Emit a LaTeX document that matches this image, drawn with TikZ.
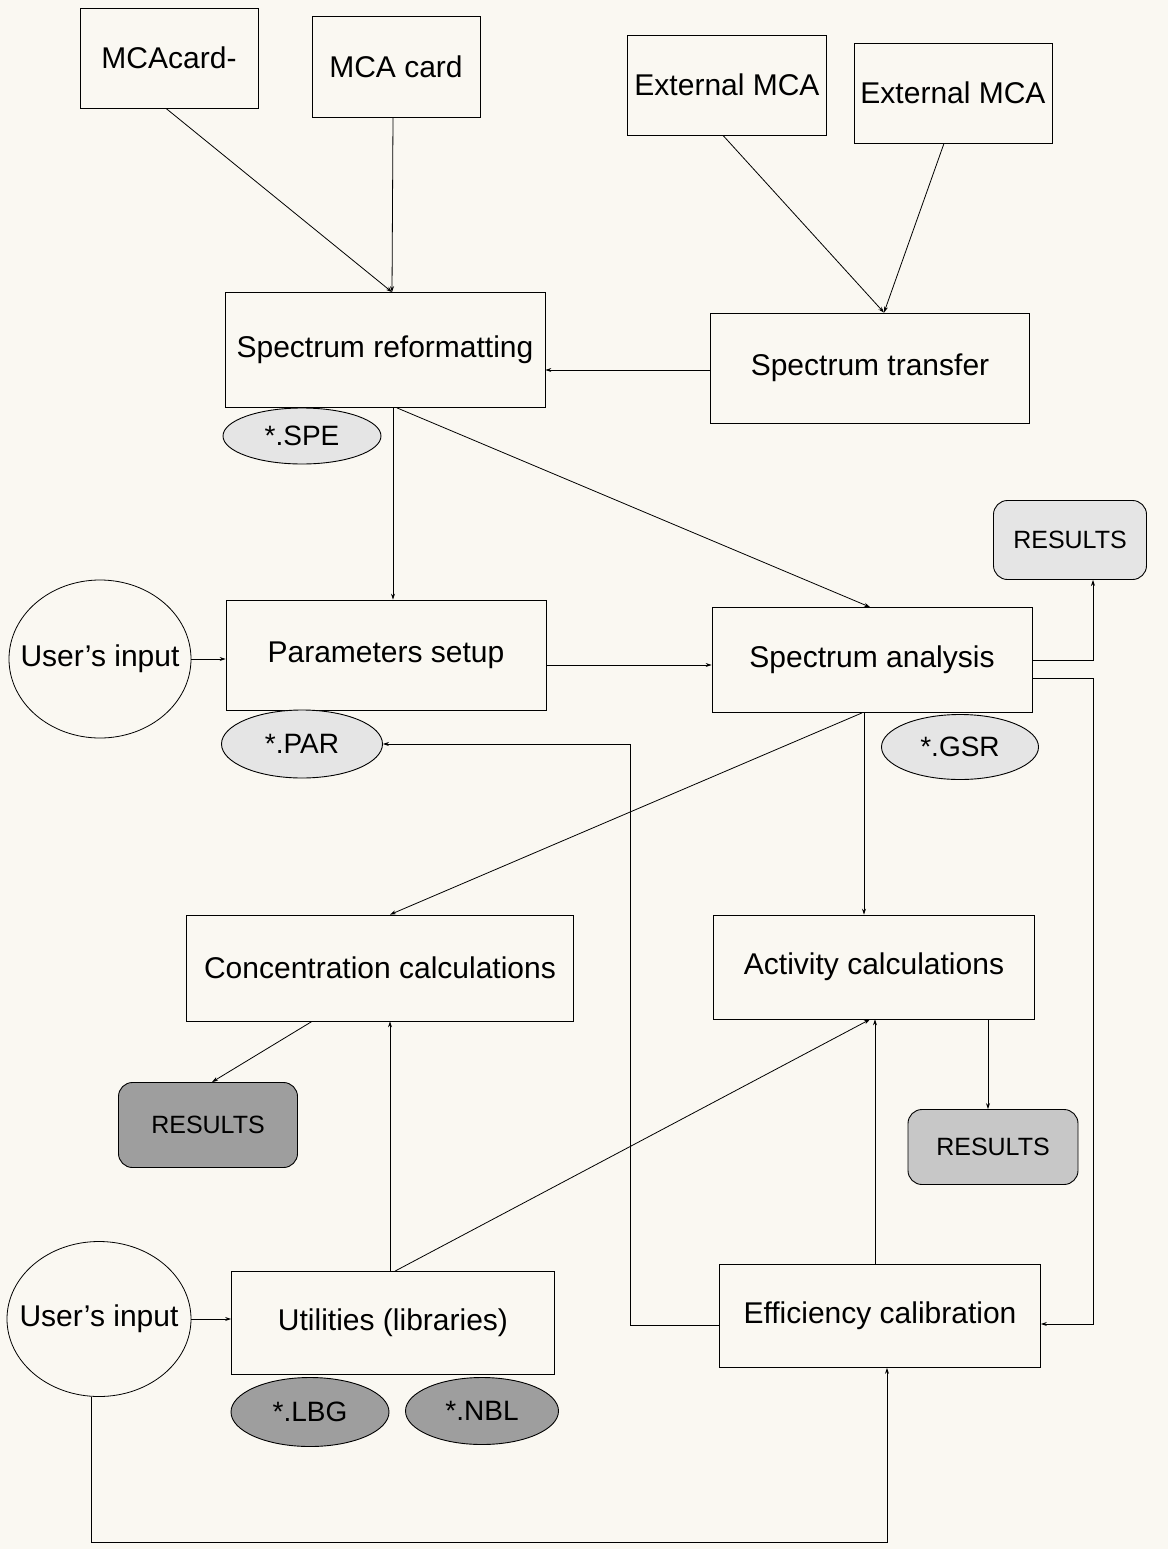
\documentclass[tikz,border=0pt]{standalone}
\usepackage{fontspec}
\setmainfont{Liberation Sans}
\usetikzlibrary{arrows.meta,shapes.geometric}

\begin{document}
\begin{tikzpicture}[x=1pt,y=-1pt,
  box/.style={draw,line width=0.8pt,inner sep=0pt,font=\fontsize{30}{36}\selectfont},
  user/.style={draw,ellipse,line width=0.8pt,inner sep=0pt,font=\fontsize{30}{36}\selectfont},
  file/.style={draw,ellipse,line width=0.9pt,inner sep=0pt,font=\fontsize{28}{34}\selectfont},
  res/.style={draw,rounded corners=14pt,line width=0.9pt,inner sep=0pt,font=\fontsize{25}{30}\selectfont},
  arr/.style={line width=0.8pt,-{Stealth[length=6pt,width=4pt]}}]
\definecolor{paper}{HTML}{FAF8F2}
\definecolor{dotlight}{gray}{0.9}
\definecolor{dotmid}{gray}{0.78}
\definecolor{dotdark}{gray}{0.62}
\fill[paper] (0,0) rectangle (1168,1549);
\useasboundingbox (0,0) rectangle (1168,1549);

% sources
\node[box,minimum width=178pt,minimum height=100pt] (mcaA) at (169,58) {MCAcard-};
\node[box,minimum width=168pt,minimum height=101pt] (mcaB) at (396,67) {MCA card};
\node[box,minimum width=199pt,minimum height=100pt] (extA) at (727,85) {External MCA};
\node[box,minimum width=198pt,minimum height=100pt] (extB) at (953,93) {External MCA};

% program blocks
\node[box,minimum width=320pt,minimum height=115pt] (reform) at (385,350) {Spectrum reformatting};
\node[box,minimum width=319pt,minimum height=110pt] (transfer) at (870,368) {Spectrum transfer};
\node[box,minimum width=320pt,minimum height=110pt] (params) at (386,655) {Parameters setup};
\node[box,minimum width=320pt,minimum height=105pt] (analysis) at (872,660) {Spectrum analysis};
\node[box,minimum width=387pt,minimum height=106pt] (conc) at (380,968) {Concentration calculations};
\node[box,minimum width=321pt,minimum height=104pt] (activity) at (874,967) {Activity calculations};
\node[box,minimum width=323pt,minimum height=103pt] (util) at (393,1323) {Utilities (libraries)};
\node[box,minimum width=321pt,minimum height=103pt] (effic) at (880,1316) {Efficiency calibration};

\node[user,minimum width=182pt,minimum height=158pt] (user1) at (100,659) {\makebox[0pt]{User’s input}};
\node[user,minimum width=184pt,minimum height=155pt] (user2) at (99,1319) {\makebox[0pt]{User’s input}};

% files
\foreach \nm/\px/\py/\ew/\eh/\clr/\ext in {spe/302/436/158/56/dotlight/SPE,par/302/744/161/68/dotlight/PAR,
    gsr/960/747/157/65/dotlight/GSR,lbg/310/1412/158/69/dotdark/LBG,nbl/482/1411/153/67/dotdark/NBL}
  {\node[file,fill=\clr,minimum width=\ew pt,minimum height=\eh pt] (\nm) at (\px,\py) {*.\ext};}

\node[res,fill=dotlight,minimum width=153pt,minimum height=79pt] (resA) at (1070,540) {RESULTS};
\node[res,fill=dotdark,minimum width=179pt,minimum height=85pt] (resB) at (208,1125) {RESULTS};
\node[res,fill=dotmid,minimum width=170pt,minimum height=75pt] (resC) at (993,1147) {RESULTS};

\coordinate (busL) at (630,0);
\coordinate (busR) at (1093,0);
\coordinate (busB) at (0,1542);

% connectors
\draw[arr] ([xshift=-3pt]mcaA.south) -- ([xshift=7pt]reform.north);
\draw[arr] ([xshift=-3pt]mcaB.south) -- ([xshift=7pt]reform.north);
\draw[arr] ([xshift=-4pt]extA.south) -- ([xshift=14pt]transfer.north);
\draw[arr] ([xshift=-9pt]extB.south) -- ([xshift=14pt]transfer.north);
\draw[arr] ([yshift=-2pt]transfer.west) -- ([yshift=-2pt]transfer.west -| reform.east);
\draw[arr] ([xshift=8pt]reform.south) -- ([xshift=8pt]reform.south |- params.north);
\draw[arr] ([xshift=12pt]reform.south) -- ([xshift=-2pt]analysis.north);
\draw[arr] (user1.east) -- (user1.east -| params.west);
\draw[arr] ([yshift=-10pt]params.east) -- ([yshift=-10pt]params.east -| analysis.west);
\draw[arr] (analysis.east) -| (busR |- resA.south);
\draw[arr] ([yshift=-18pt]analysis.east) -| ([yshift=-8pt]busR |- effic.east) -- ([yshift=-8pt]effic.east);
\draw[arr] ([xshift=-10pt]analysis.south) -- ([xshift=10pt]conc.north);
\draw[arr] ([xshift=-8pt]analysis.south) -- ([xshift=-8pt]analysis.south |- activity.north);
\draw[arr] ([yshift=-9pt]effic.west) -| (busL |- par.east) -- (par.east);
\draw[arr] ([xshift=-68pt]conc.south) -- ([xshift=4pt]resB.north);
\draw[arr] ([xshift=-3pt]util.north) -- ([xshift=-3pt]util.north |- conc.south);
\draw[arr] ([xshift=2pt]util.north) -- ([xshift=-4pt]activity.south);
\draw[arr] ([xshift=-5pt]effic.north) -- ([xshift=-5pt]effic.north |- activity.south);
\draw[arr] ([xshift=-5pt]resC.north |- activity.south) -- ([xshift=-5pt]resC.north);
\draw[arr] (user2.east) -- (user2.east -| util.west);
\draw[arr] ([xshift=-8pt]user2.south) |- ([xshift=7pt]busB -| effic.south) -- ([xshift=7pt]effic.south);
\end{tikzpicture}
\end{document}
